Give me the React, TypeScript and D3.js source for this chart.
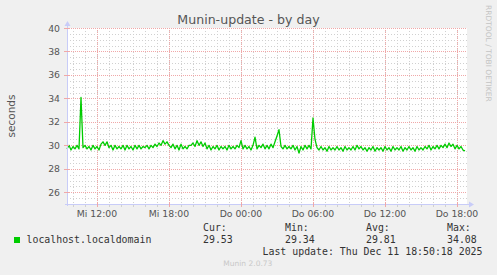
import React from 'react';
import * as d3 from 'd3';

const dayNames = ["So", "Mo", "Di", "Mi", "Do", "Fr", "Sa"];
const chartTitle = "Munin-update - by day";
const yLabel = "seconds";
const seriesName = "localhost.localdomain";
const legendHeaders = ["Cur:", "Min:", "Avg:", "Max:"];
const legendValues = ["29.53", "29.34", "29.81", "34.08"];
const lastUpdate = "Last update: Thu Dec 11 18:50:18 2025";
const footer = "Munin 2.0.73";
const sideText = "RRDTOOL / TOBI OETIKER";
const yTicks = [26, 28, 30, 32, 34, 36, 38, 40];
const yDomain = [25, 40];
const startTime = new Date(2025, 11, 10, 9, 30, 18);
const endTime = new Date(2025, 11, 11, 18, 50, 18);
const stepMinutes = 10;

const values = [
  29.7, 30.0, 29.6, 29.9, 29.7, 30.0, 29.7,
  34.08,
  29.8, 30.0, 29.7, 29.9, 29.6, 30.0, 29.7, 29.9, 29.6,
  30.1, 30.3, 30.0, 30.3,
  29.8, 30.0, 29.6, 30.0, 29.7, 29.9, 29.7, 30.0, 29.6, 30.0, 29.7, 29.9, 29.6, 30.0, 29.7, 30.0, 29.7, 29.9, 29.8, 30.0, 29.7,
  30.0, 29.8, 30.1, 29.9, 30.2, 30.0, 30.4, 30.1, 30.3, 30.0,
  29.8, 30.1, 29.7, 30.0, 29.6, 30.1, 29.7, 29.9, 29.7, 30.0,
  30.0, 30.2, 29.9, 30.4, 30.0, 30.3, 29.9, 30.2,
  29.7, 30.0, 29.6, 29.9, 29.7, 30.0, 29.6, 29.9, 29.7, 29.9, 29.6, 30.0, 29.7, 29.9, 29.7, 30.0,
  29.8, 30.4,
  29.7, 30.0, 29.7, 29.9, 29.6, 30.0,
  30.7,
  29.7, 30.0, 29.8, 30.1, 29.7, 30.0, 29.7, 30.1, 29.8,
  30.3, 30.8, 31.33, 29.9,
  29.7, 30.0, 29.7, 29.9, 29.7, 30.0, 29.6, 29.9,
  29.34,
  29.9, 29.6, 30.0, 29.7, 30.0, 29.7,
  32.33, 30.5,
  29.8, 29.6, 29.9, 29.6, 29.8, 29.5, 29.9, 29.6, 29.8, 29.6, 29.9, 29.6, 29.8, 29.5, 29.9, 29.6, 29.8, 29.6, 29.9, 29.6,
  30.0, 29.7, 29.9, 29.6, 29.8, 29.5, 29.8, 29.6, 29.9, 29.5, 29.8, 29.6, 29.8, 29.5, 29.9, 29.6, 29.8, 29.5, 29.9, 29.6,
  29.8, 29.6, 29.9, 29.5, 29.8, 29.6, 29.9, 29.6, 29.8, 29.5, 29.9, 29.6, 29.8, 29.6, 29.9, 29.7, 30.0, 29.6, 29.9, 29.7, 30.0, 29.7,
  30.0, 29.8, 30.1, 29.8, 30.2, 29.9, 30.1, 29.7, 30.0,
  29.7, 29.9, 29.6, 29.53,
];

const W = 497;
const H = 275;
const PL = 67, PR = 467, PT = 28, PB = 204;

export default function App() {
  const x = d3.scaleTime().domain([startTime, endTime]).range([PL, PR]);
  const y = d3.scaleLinear().domain(yDomain).range([PB, PT]);
  const data = values.map((v, i) => ({ t: d3.timeMinute.offset(startTime, i * stepMinutes), v }));
  const line = d3.line<{ t: Date; v: number }>().x(d => x(d.t)).y(d => y(d.v));
  const crisp = (n: number) => Math.round(n) + 0.5;

  const minorY = d3.range(yDomain[0], yDomain[1] + 0.001, 0.5).filter(v => !yTicks.includes(v));
  const minorX = d3.timeHour.every(1)!.range(startTime, endTime);
  const majorX = d3.timeHour.every(6)!.range(startTime, endTime);
  const fmt = d3.timeFormat("%H:%M");
  const font = "'DejaVu Sans', sans-serif";
  const mono = "'DejaVu Sans Mono', monospace";
  const legendX = [203, 285, 366, 447];

  return (
    <svg width={W} height={H} style={{ position: 'absolute', left: 0, top: 0, display: 'block' }}>
      <rect x={0} y={0} width={W} height={H} fill="#f0f0f0" />
      <rect x={PL} y={PT} width={PR - PL} height={PB - PT} fill="#ffffff" />
      {minorY.map(v => (
        <line key={'my' + v} x1={PL} x2={PR} y1={crisp(y(v))} y2={crisp(y(v))} stroke="#d0d0d0" strokeDasharray="1,2" />
      ))}
      {minorX.map(t => (
        <line key={'mx' + t.getTime()} x1={crisp(x(t))} x2={crisp(x(t))} y1={PT} y2={PB} stroke="#d0d0d0" strokeDasharray="1,2" />
      ))}
      {yTicks.map(v => (
        <line key={'Y' + v} x1={PL} x2={PR} y1={crisp(y(v))} y2={crisp(y(v))} stroke="#f0a8a8" strokeDasharray="1,1" />
      ))}
      {majorX.map(t => (
        <line key={'X' + t.getTime()} x1={crisp(x(t))} x2={crisp(x(t))} y1={PT} y2={PB} stroke="#f0a8a8" strokeDasharray="1,1" />
      ))}
      <path d={line(data) || ''} fill="none" stroke="#00cc00" strokeWidth={1.3} strokeLinejoin="round" />
      {/* axes */}
      <line x1={PL + 0.5} x2={PL + 0.5} y1={PB + 2} y2={PT - 3} stroke="#c8ccf8" />
      <line x1={PL - 2} x2={PR + 3} y1={PB + 0.5} y2={PB + 0.5} stroke="#c8ccf8" />
      <path d={`M${PL - 2.5},${PT - 2} L${PL + 3.5},${PT - 2} L${PL + 0.5},${PT - 7} Z`} fill="#c8ccf8" />
      <path d={`M${PR + 2},${PB - 2.5} L${PR + 2},${PB + 3.5} L${PR + 7},${PB + 0.5} Z`} fill="#c8ccf8" />
      {minorX.map(t => (
        <line key={'tx' + t.getTime()} x1={crisp(x(t))} x2={crisp(x(t))} y1={PB + 1} y2={PB + 3} stroke="#d0d0d0" />
      ))}
      {majorX.map(t => (
        <line key={'TX' + t.getTime()} x1={crisp(x(t))} x2={crisp(x(t))} y1={PB - 2} y2={PB + 3} stroke="#f0a8a8" />
      ))}
      {yTicks.map(v => (
        <line key={'TY' + v} x1={PL - 3} x2={PL + 2} y1={crisp(y(v))} y2={crisp(y(v))} stroke="#f0a8a8" />
      ))}
      {/* labels */}
      {yTicks.map(v => (
        <text key={'ly' + v} x={60} y={y(v) + 3.5} textAnchor="end" fontFamily={font} fontSize={9.3} fill="#555">{v}</text>
      ))}
      {majorX.map(t => (
        <text key={'lx' + t.getTime()} x={x(t)} y={216.5} textAnchor="middle" fontFamily={font} fontSize={9.3} fill="#555">
          {dayNames[t.getDay()] + ' ' + fmt(t)}
        </text>
      ))}
      <text x={W / 2} y={24} textAnchor="middle" fontFamily={font} fontSize={12.6} fill="#555">{chartTitle}</text>
      <text transform={`translate(15,${(PT + PB) / 2}) rotate(-90)`} textAnchor="middle" fontFamily={font} fontSize={10.5} fill="#555">{yLabel}</text>
      <text transform="translate(485.5,5) rotate(90)" fontFamily={font} fontSize={7.5} fill="#c4c4c4">{sideText}</text>
      {/* legend */}
      <rect x={14} y={237} width={6} height={6} fill="#00cc00" />
      <text x={26.5} y={243} fontFamily={mono} fontSize={9.9} fill="#333">{seriesName}</text>
      {legendHeaders.map((h, i) => (
        <text key={h} x={legendX[i]} y={231} fontFamily={mono} fontSize={9.9} fill="#333">{h}</text>
      ))}
      {legendValues.map((v, i) => (
        <text key={'v' + i} x={legendX[i]} y={243} fontFamily={mono} fontSize={9.9} fill="#333">{v}</text>
      ))}
      <text x={482.5} y={255} textAnchor="end" fontFamily={mono} fontSize={9.9} fill="#333">{lastUpdate}</text>
      <text x={223.3} y={266} fontFamily={font} fontSize={7.5} fill="#c8c8c8">{footer}</text>
    </svg>
  );
}
